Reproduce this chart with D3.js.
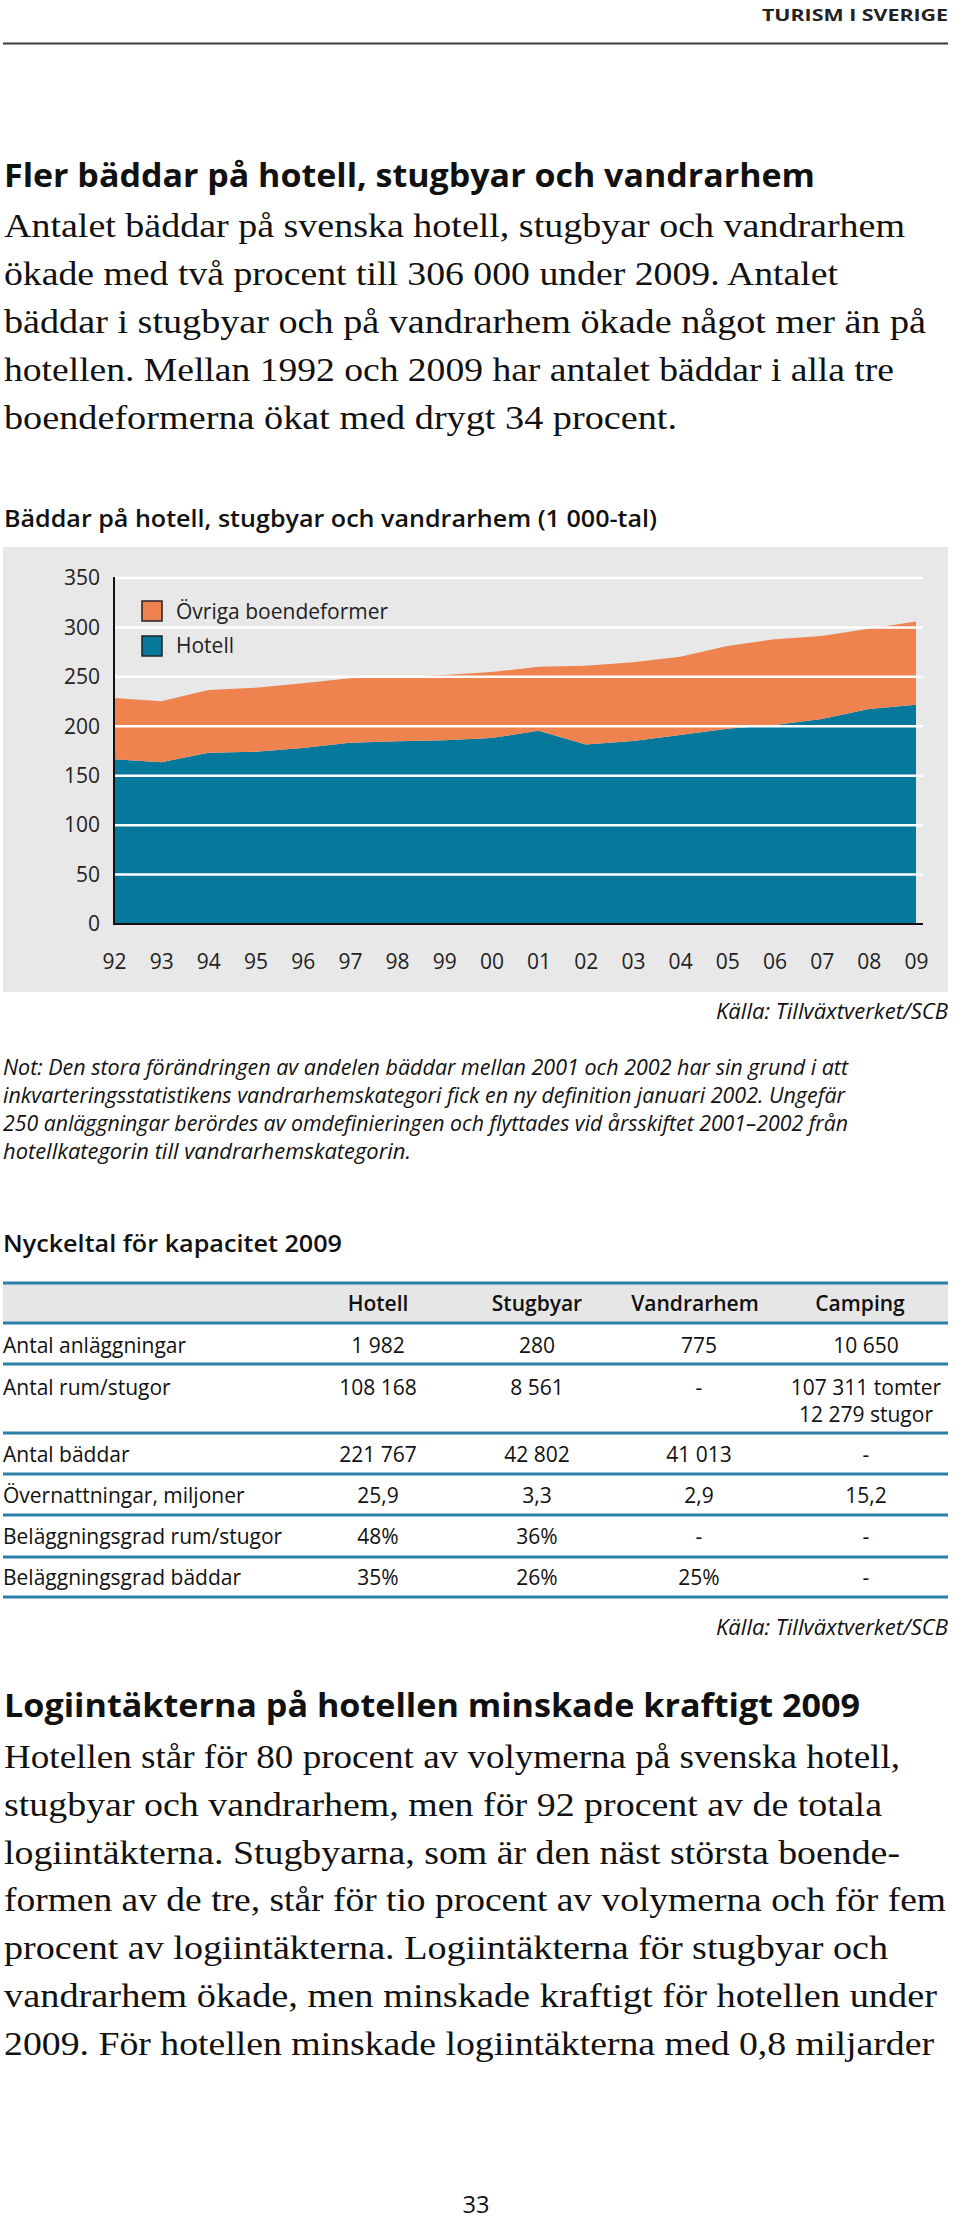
<!DOCTYPE html>
<html><head><meta charset="utf-8">
<script src="https://cdn.jsdelivr.net/npm/d3@7"></script>
<style>
html,body{margin:0;padding:0;background:#fff;}
svg{display:block;}
</style></head>
<body>
<script>
// ---------- DATA ----------
const years = [1992,1993,1994,1995,1996,1997,1998,1999,2000,2001,2002,2003,2004,2005,2006,2007,2008,2009];
const yearLabels = ["92","93","94","95","96","97","98","99","00","01","02","03","04","05","06","07","08","09"];
const hotell = [166.6,163.5,173.3,174.3,178.0,183.4,184.8,186.0,188.1,195.6,181.7,185.1,191.2,197.6,201.3,207.4,217.5,221.8];
const ovriga = [62.0,61.7,63.4,64.7,65.5,65.1,64.7,65.9,66.8,64.7,79.6,79.6,79.2,83.6,86.7,83.9,81.2,84.2];
const seriesNames = ["Hotell","Övriga boendeformer"];
const yTicks = [0,50,100,150,200,250,300,350];

const tableCols = ["Hotell","Stugbyar","Vandrarhem","Camping"];
const tableRows = ["Antal anläggningar","Antal rum/stugor","Antal bäddar","Övernattningar, miljoner","Beläggningsgrad rum/stugor","Beläggningsgrad bäddar"];
const colHotell = ["1 982","108 168","221 767","25,9","48%","35%"];
const colStugbyar = ["280","8 561","42 802","3,3","36%","26%"];
const colVandrarhem = ["775","-","41 013","2,9","-","25%"];
const colCamping = [["10 650"],["107 311 tomter","12 279 stugor"],["-"],["15,2"],["-"],["-"]];

const intro = ["Antalet bäddar på svenska hotell, stugbyar och vandrarhem",
 "ökade med två procent till 306 000 under 2009. Antalet",
 "bäddar i stugbyar och på vandrarhem ökade något mer än på",
 "hotellen. Mellan 1992 och 2009 har antalet bäddar i alla tre",
 "boendeformerna ökat med drygt 34 procent."];
const introEnds = [905,838,926,894,677];
const note = ["Not: Den stora förändringen av andelen bäddar mellan 2001 och 2002 har sin grund i att",
 "inkvarteringsstatistikens vandrarhemskategori fick en ny definition januari 2002. Ungefär",
 "250 anläggningar berördes av omdefinieringen och flyttades vid årsskiftet 2001–2002 från",
 "hotellkategorin till vandrarhemskategorin."];
const noteEnds = [848,845,848,411];
const body2 = ["Hotellen står för 80 procent av volymerna på svenska hotell,",
 "stugbyar och vandrarhem, men för 92 procent av de totala",
 "logiintäkterna. Stugbyarna, som är den näst största boende-",
 "formen av de tre, står för tio procent av volymerna och för fem",
 "procent av logiintäkterna. Logiintäkterna för stugbyar och",
 "vandrarhem ökade, men minskade kraftigt för hotellen under",
 "2009. För hotellen minskade logiintäkterna med 0,8 miljarder"];
const body2Ends = [900,882,900,946,888,937,934];

// ---------- PAGE ----------
const W = 960, H = 2225;
const svg = d3.select("body").append("svg").attr("width", W).attr("height", H);
const SANS = "'Open Sans', 'Noto Sans', sans-serif";
const SERIF = "'Liberation Serif', serif";

function txt(s, x, y, o) {
  const t = svg.append("text").attr("x", x).attr("y", y).text(s)
    .attr("font-family", o.family || SANS).attr("font-size", o.size)
    .attr("fill", o.fill || "#111");
  if (o.weight) t.attr("font-weight", o.weight);
  if (o.style) t.attr("font-style", o.style);
  if (o.anchor) t.attr("text-anchor", o.anchor);
  if (o.len) t.attr("textLength", o.len).attr("lengthAdjust", "spacingAndGlyphs");
  return t;
}

// header
txt("TURISM I SVERIGE", 948, 21, {size: 16, weight: 700, anchor: "end", len: 186, fill: "#222"});
svg.append("line").attr("x1", 3).attr("x2", 948).attr("y1", 43.5).attr("y2", 43.5)
  .attr("stroke", "#3a3a3a").attr("stroke-width", 2);

// heading 1 + intro
txt("Fler bäddar på hotell, stugbyar och vandrarhem", 4, 187, {size: 32, weight: 700, len: 811});
intro.forEach((s, i) => txt(s, 4, 237 + i * 47.9, {size: 33, family: SERIF, len: introEnds[i] - 4}));

// chart title
txt("Bäddar på hotell, stugbyar och vandrarhem (1 000-tal)", 4, 527, {size: 23, weight: 600, len: 653});

// panel
svg.append("rect").attr("x", 3).attr("y", 547).attr("width", 945).attr("height", 445).attr("fill", "#e8e8e8");

// ---------- CHART ----------
const x = d3.scaleLinear().domain([1992, 2009]).range([114, 916]);
const y = d3.scaleLinear().domain([0, 350]).range([924, 578]);
const rows = years.map((yr, i) => ({year: yr, Hotell: hotell[i], "Övriga boendeformer": ovriga[i]}));
const stacked = d3.stack().keys(seriesNames)(rows);
const colors = {"Hotell": "#05789c", "Övriga boendeformer": "#ef8350"};
const area = d3.area().x(d => x(d.data.year)).y0(d => y(d[0])).y1(d => y(d[1]));
const g = svg.append("g");
g.selectAll("path.area").data(stacked).join("path").attr("class", "area")
  .attr("d", area).attr("fill", d => colors[d.key]);

// gridlines (white, over areas)
g.selectAll("line.grid").data(yTicks.filter(v => v > 0)).join("line").attr("class", "grid")
  .attr("x1", 114).attr("x2", 923).attr("y1", d => y(d)).attr("y2", d => y(d))
  .attr("stroke", "#fff").attr("stroke-width", 2.5);

// axes
const yAxis = d3.axisLeft(y).tickValues(yTicks).tickSize(0).tickPadding(14);
const ya = svg.append("g").attr("transform", "translate(114,0)").call(yAxis);
ya.select(".domain").remove();
ya.selectAll("text").attr("font-family", SANS).attr("font-size", 21).attr("fill", "#222");
svg.append("line").attr("x1", 114).attr("x2", 114).attr("y1", 577).attr("y2", 925)
  .attr("stroke", "#111").attr("stroke-width", 2);
const xAxis = d3.axisBottom(x).tickValues(years).tickSize(0).tickPadding(30)
  .tickFormat((d, i) => yearLabels[i]);
const xa = svg.append("g").attr("transform", "translate(0,924)").call(xAxis);
xa.select(".domain").remove();
xa.selectAll("text").attr("font-family", SANS).attr("font-size", 21).attr("fill", "#222");
svg.append("line").attr("x1", 113).attr("x2", 923).attr("y1", 924).attr("y2", 924)
  .attr("stroke", "#111").attr("stroke-width", 2);

// legend
const legendItems = ["Övriga boendeformer", "Hotell"];
legendItems.forEach((k, i) => {
  svg.append("rect").attr("x", 142).attr("y", 601 + i * 35).attr("width", 20).attr("height", 20)
    .attr("fill", colors[k]).attr("stroke", "#222").attr("stroke-width", 1.5);
  txt(k, 176, 619 + i * 34, {size: 21, fill: "#222"});
});

// source + note
txt("Källa: Tillväxtverket/SCB", 948, 1019, {size: 21, style: "italic", anchor: "end", len: 232});
note.forEach((s, i) => txt(s, 3, 1075 + i * 28, {size: 21, style: "italic", len: noteEnds[i] - 3}));

// ---------- TABLE ----------
txt("Nyckeltal för kapacitet 2009", 3, 1252, {size: 24, weight: 600, len: 339});
svg.append("rect").attr("x", 3).attr("y", 1283).attr("width", 945).attr("height", 40).attr("fill", "#e6e6e6");
const colX = [378, 537, 699, 866];
const headX = [378, 537, 695, 860];
tableCols.forEach((c, i) => txt(c, headX[i], 1311, {size: 21, weight: 600, anchor: "middle"}));
const rowY = [1353, 1395, 1462, 1503, 1544, 1585];
const ruleY = [1283, 1323, 1364, 1433, 1474, 1515, 1557, 1597];
ruleY.forEach(v => svg.append("line").attr("x1", 3).attr("x2", 948).attr("y1", v).attr("y2", v)
  .attr("stroke", "#2a7fa6").attr("stroke-width", 3));
tableRows.forEach((r, i) => {
  txt(r, 3, rowY[i], {size: 21});
  txt(colHotell[i], colX[0], rowY[i], {size: 21, anchor: "middle"});
  txt(colStugbyar[i], colX[1], rowY[i], {size: 21, anchor: "middle"});
  txt(colVandrarhem[i], colX[2], rowY[i], {size: 21, anchor: "middle"});
  colCamping[i].forEach((s, j) => txt(s, colX[3], rowY[i] + j * 27, {size: 21, anchor: "middle"}));
});
txt("Källa: Tillväxtverket/SCB", 948, 1635, {size: 21, style: "italic", anchor: "end", len: 232});

// heading 2 + body
txt("Logiintäkterna på hotellen minskade kraftigt 2009", 4, 1717, {size: 32, weight: 700, len: 856});
body2.forEach((s, i) => txt(s, 4, 1768 + i * 47.8, {size: 33, family: SERIF, len: body2Ends[i] - 4}));

// page number
txt("33", 476, 2213, {size: 24, anchor: "middle", len: 27});
</script>
</body></html>
